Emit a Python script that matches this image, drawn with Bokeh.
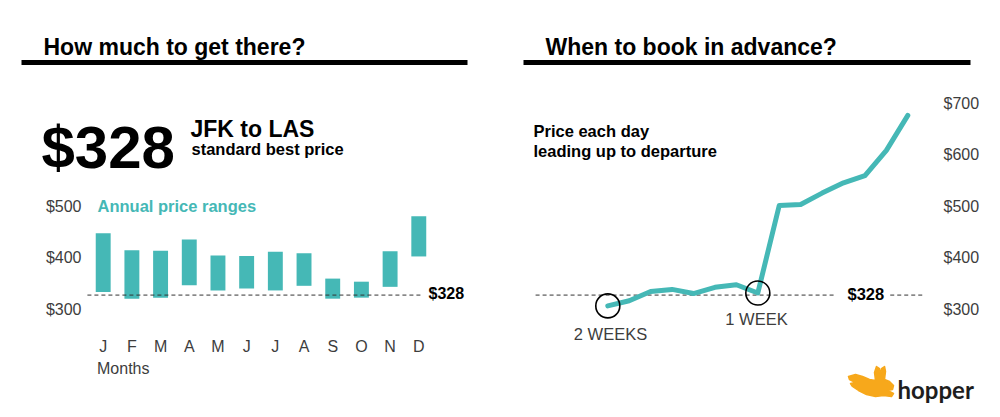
from bokeh.plotting import figure
from bokeh.models import (Range1d, FixedTicker, NumeralTickFormatter, Label,
                          BoxAnnotation, ColumnDataSource, LinearAxis)
from bokeh.embed import file_html
from bokeh.resources import INLINE

# ---------------- data ----------------
months = ["J", "F", "M", "A", "M", "J", "J", "A", "S", "O", "N", "D"]
month_low = [334, 321, 323, 347, 337, 341, 337, 346, 321, 323, 344, 403]
month_high = [448, 415, 414, 436, 405, 404, 412, 409, 360, 354, 413, 481]
best_price = 328
days_out = [14, 13, 12, 11, 10, 9, 8, 7, 6, 5, 4, 3, 2, 1, 0]
daily_price = [307, 317, 335, 339, 331, 343, 348, 332, 502, 504, 526, 546, 560, 609, 677]
left_ticks = [300, 400, 500]
right_ticks = [300, 400, 500, 600, 700]
marked_days = [14, 7]

TEAL = "#45B8B6"
FONT = "Liberation Sans"
GRAY = "#3d3d3d"

W, H = 1000, 417
# page-coordinate base ranges; frame covers the whole canvas
p = figure(width=W, height=H, output_backend="svg", toolbar_location=None,
           x_range=Range1d(0, W), y_range=Range1d(H, 0),
           x_axis_location=None, y_axis_location=None,
           min_border=0, min_border_left=0, min_border_right=0,
           min_border_top=0, min_border_bottom=0)
p.grid.visible = False
p.outline_line_color = None
p.background_fill_color = "white"
p.border_fill_color = "white"

# scales for the data
p.extra_y_ranges = {"price": Range1d(90.29, 900.0)}
p.extra_x_ranges = {"months": Range1d(-2.5797, 32.276),
                    "days": Range1d(42.339, -4.325)}


def style_axis(ax):
    ax.axis_line_color = None
    ax.major_tick_line_color = None
    ax.minor_tick_line_color = None
    ax.major_tick_out = 0
    ax.major_tick_in = 0
    ax.major_label_text_font = FONT
    ax.major_label_text_font_size = "16px"
    ax.major_label_text_color = GRAY
    ax.major_label_standoff = 7


def lab(text, x, y, size, bold=False, color="#000000", align="left",
        baseline="middle", font=FONT, xr="default"):
    p.add_layout(Label(x=x, y=y, text=text, x_range_name=xr,
                       text_font=font, text_font_size=size,
                       text_font_style="bold" if bold else "normal",
                       text_color=color, text_align=align, text_baseline=baseline))


# ---------------- left panel ----------------
ly = LinearAxis(y_range_name="price", fixed_location=88,
                ticker=FixedTicker(ticks=left_ticks),
                formatter=NumeralTickFormatter(format="$0"))
style_axis(ly)
p.add_layout(ly, "left")

xs = list(range(1, len(months) + 1))
lx = LinearAxis(x_range_name="months", fixed_location=330,
                ticker=FixedTicker(ticks=xs))
style_axis(lx)
lx.major_label_overrides = {i: m for i, m in zip(xs, months)}
p.add_layout(lx, "below")

src_m = ColumnDataSource(dict(x=xs, low=month_low, high=month_high))
p.vbar(x="x", bottom="low", top="high", width=0.52, source=src_m,
       x_range_name="months", y_range_name="price",
       fill_color=TEAL, line_color=None)
p.segment(x0=[0.45], y0=[best_price], x1=[len(months) + 0.16], y1=[best_price],
          x_range_name="months", y_range_name="price",
          line_color="#333333", line_width=1, line_dash="4 3")

p.add_layout(BoxAnnotation(left=21, right=467, top=59.5, bottom=64.5,
                           fill_color="black", fill_alpha=1, line_color=None))
lab("How much to get there?", 43, 46.5, "23px", bold=True, baseline="alphabetic")
lab("$%d" % best_price, 41, 147, "60px", bold=True, baseline="alphabetic")
lab("JFK to LAS", 190, 128.5, "23px", bold=True, baseline="alphabetic")
lab("standard best price", 191, 148.5, "16.5px", bold=True, baseline="alphabetic")
lab("Annual price ranges", 97, 205, "16.5px", bold=True, color=TEAL)
lab("$%d" % best_price, 428, 293, "16px", bold=True)
lab("Months", 96.5, 368, "16px", color=GRAY)

# ---------------- right panel ----------------
ry = LinearAxis(y_range_name="price", fixed_location=936,
                ticker=FixedTicker(ticks=right_ticks),
                formatter=NumeralTickFormatter(format="$0"))
style_axis(ry)
p.add_layout(ry, "right")

p.segment(x0=[17.37, 0.82], y0=[best_price] * 2, x1=[3.38, -0.68], y1=[best_price] * 2,
          x_range_name="days", y_range_name="price",
          line_color="#333333", line_width=1, line_dash="4 3")
p.line(days_out, daily_price, x_range_name="days", y_range_name="price",
       line_color=TEAL, line_width=5, line_join="round", line_cap="round")
mk_price = [daily_price[days_out.index(d)] for d in marked_days]
p.scatter(marked_days, mk_price, x_range_name="days", y_range_name="price",
          marker="circle", size=24, fill_color=None,
          line_color="black", line_width=1.6)

p.add_layout(BoxAnnotation(left=523, right=970, top=59.5, bottom=64.5,
                           fill_color="black", fill_alpha=1, line_color=None))
lab("When to book in advance?", 545, 46.5, "23px", bold=True, baseline="alphabetic")
lab("Price each day", 533, 130, "16.5px", bold=True)
lab("leading up to departure", 533, 150, "16.5px", bold=True)
lab("$%d" % best_price, 847, 293, "16.5px", bold=True)
lab("2 WEEKS", 610, 333, "16.5px", color=GRAY, align="center")
lab("1 WEEK", 756, 318, "16.5px", color=GRAY, align="center")

# hopper logo (decoration)
rab_x = [848, 855, 862, 869, 875, 874, 876, 879, 880, 881, 884, 885, 884, 889, 893, 892,
         887, 893, 891, 883, 875, 866, 858, 852, 850, 855, 849]
rab_y = [376, 374, 376, 379, 380, 372, 366, 368, 376, 368, 366, 371, 379, 381, 385, 389,
         390, 393, 396, 395, 396, 394, 390, 386, 383, 382, 379]
p.patch(rab_x, rab_y, fill_color="#F7A81B", line_color="#F7A81B", line_width=1.5,
        line_join="round")
lab("hopper", 897, 389, "24px", bold=True, color="#1e1e1e", baseline="alphabetic",
    font="Lato")

open("out.html", "w").write(file_html(p, INLINE))
